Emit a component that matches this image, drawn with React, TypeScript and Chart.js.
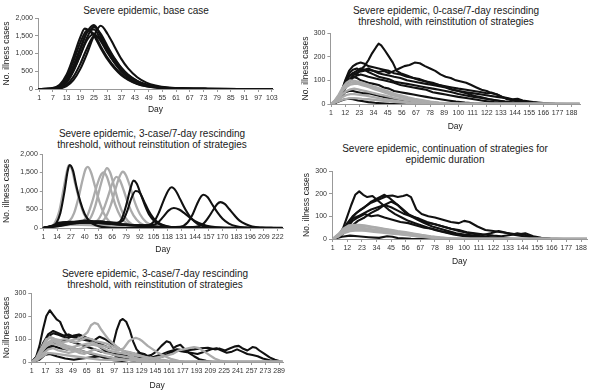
import React, { useEffect, useRef } from "react";
import { Chart, registerables } from "chart.js";
Chart.register(...registerables);

type Pt = [number, number];

// ---------------- Panel 1: base case ----------------
const p1XTicks = [1, 7, 13, 19, 25, 31, 37, 43, 49, 55, 61, 67, 73, 79, 85, 91, 97, 103];
const p1YTicks = [0, 500, 1000, 1500, 2000];
const p1RunA: Pt[] = [[1,0],[6,5],[10,60],[13,250],[16,650],[19,1150],[22,1600],[25,1680],[28,1400],[31,1050],[34,750],[37,500],[40,330],[44,180],[48,100],[52,55],[58,20],[65,8],[75,2],[90,0],[103,0]];
const p1RunB: Pt[] = [[1,0],[6,3],[10,40],[13,180],[16,500],[19,950],[22,1450],[25,1750],[28,1550],[31,1200],[34,870],[37,600],[40,400],[44,220],[48,120],[52,65],[58,25],[65,10],[75,3],[90,0],[103,0]];
const p1RunC: Pt[] = [[1,0],[6,1],[10,15],[13,80],[16,250],[19,560],[22,1000],[25,1500],[28,1780],[31,1550],[34,1200],[37,850],[40,580],[44,330],[48,180],[52,100],[58,40],[65,15],[75,4],[90,0],[103,0]];
const p1RunD: Pt[] = [[1,0],[6,8],[10,90],[13,320],[16,780],[19,1300],[22,1650],[25,1550],[28,1200],[31,880],[34,620],[37,420],[40,280],[44,150],[48,80],[52,45],[58,18],[65,7],[75,2],[90,0],[103,0]];
const p1RunE: Pt[] = [[1,0],[6,4],[10,50],[13,200],[16,520],[19,950],[22,1380],[25,1550],[28,1350],[31,1020],[34,740],[37,510],[40,350],[44,200],[48,110],[52,60],[58,22],[65,9],[75,2],[90,0],[103,0]];
const p1RunF: Pt[] = [[1,0],[6,2],[10,25],[13,120],[16,340],[19,700],[22,1150],[25,1480],[28,1450],[31,1150],[34,850],[37,590],[40,400],[44,230],[48,130],[52,70],[58,28],[65,10],[75,3],[90,0],[103,0]];
const p1RunG: Pt[] = [[1,0],[6,5],[10,55],[13,230],[16,600],[19,1100],[22,1600],[25,1800],[28,1500],[31,1120],[34,800],[37,540],[40,360],[44,200],[48,110],[52,60],[58,22],[65,9],[75,2],[90,0],[103,0]];
const p1RunH: Pt[] = [[1,0],[6,10],[10,120],[13,400],[16,900],[19,1450],[21,1700],[25,1500],[28,1150],[31,830],[34,580],[37,390],[40,260],[44,140],[48,75],[52,40],[58,15],[65,6],[75,2],[90,0],[103,0]];

// ---------------- Panel 2: 0-case/7-day, with reinstitution ----------------
const p2XTicks = [1, 12, 23, 34, 45, 56, 67, 78, 89, 100, 111, 122, 133, 144, 155, 166, 177, 188];
const p2YTicks = [0, 100, 200, 300];
const p2Black1: Pt[] = [[1,0],[5,15],[9,45],[12,90],[15,120],[18,130],[21,125],[24,145],[27,160],[30,185],[33,215],[36,240],[38,255],[40,248],[43,225],[46,200],[49,175],[52,140],[55,130],[60,120],[65,110],[70,100],[75,95],[80,85],[85,80],[90,72],[95,62],[100,55],[106,45],[112,35],[118,28],[124,20],[130,15],[136,10],[142,6],[150,3],[160,1],[170,0],[194,0]];
const p2Black2: Pt[] = [[1,0],[5,10],[9,35],[12,70],[15,100],[18,120],[22,135],[26,140],[30,145],[34,140],[38,135],[42,140],[46,130],[50,140],[54,150],[58,160],[62,165],[66,175],[70,172],[74,160],[78,150],[82,140],[86,125],[90,115],[94,110],[98,100],[102,95],[106,90],[110,80],[114,70],[118,60],[122,55],[126,45],[130,40],[134,30],[138,20],[142,15],[148,10],[155,6],[165,3],[175,1],[185,0],[194,0]];
const p2Black3: Pt[] = [[1,0],[5,12],[9,50],[12,100],[15,140],[18,160],[21,170],[24,175],[27,170],[30,160],[34,155],[38,150],[42,145],[46,140],[50,130],[55,125],[60,115],[65,110],[70,105],[75,95],[80,90],[85,80],[90,75],[95,70],[100,65],[106,60],[112,55],[118,50],[122,45],[126,48],[130,40],[134,30],[138,25],[142,20],[146,22],[150,15],[158,8],[166,4],[175,1],[185,0],[194,0]];
const p2Black4: Pt[] = [[1,0],[5,10],[9,45],[12,95],[15,130],[18,145],[21,150],[24,140],[27,145],[30,150],[34,140],[38,130],[42,125],[46,120],[50,115],[55,110],[60,100],[65,95],[70,90],[75,85],[80,80],[85,75],[90,70],[95,60],[100,55],[106,50],[112,45],[118,40],[124,35],[130,30],[136,25],[142,18],[148,12],[155,8],[162,4],[170,1],[180,0],[194,0]];
const p2Black5: Pt[] = [[1,0],[5,8],[9,40],[12,85],[15,115],[18,130],[21,140],[24,150],[27,145],[30,135],[34,125],[38,115],[42,110],[46,105],[50,95],[55,90],[60,85],[65,80],[70,75],[75,70],[80,65],[85,60],[90,55],[95,50],[100,42],[106,36],[112,30],[118,25],[124,20],[130,15],[136,10],[142,7],[150,4],[160,1],[170,0],[194,0]];
const p2Black6: Pt[] = [[1,0],[5,6],[9,30],[12,65],[15,95],[18,110],[21,120],[24,125],[27,120],[30,115],[34,110],[38,105],[42,100],[46,95],[50,90],[55,80],[60,75],[65,70],[70,65],[75,60],[80,50],[85,45],[90,40],[95,35],[100,30],[106,25],[112,20],[118,15],[124,10],[130,6],[138,3],[146,1],[155,0],[194,0]];
const p2Black7: Pt[] = [[1,0],[5,8],[9,35],[12,70],[15,100],[18,115],[21,110],[24,100],[27,95],[30,90],[34,85],[38,80],[42,70],[46,65],[50,55],[55,50],[60,45],[65,40],[70,35],[75,30],[80,25],[86,20],[92,15],[98,10],[105,6],[112,3],[120,1],[130,0],[194,0]];
const p2Black8: Pt[] = [[1,0],[5,6],[9,15],[12,20],[15,22],[18,20],[22,15],[26,12],[30,8],[35,5],[40,3],[46,1],[52,0],[194,0]];
const p2Black9: Pt[] = [[1,0],[5,10],[9,30],[12,50],[15,55],[18,55],[22,50],[26,45],[30,45],[34,40],[38,35],[42,30],[46,25],[50,20],[56,15],[62,10],[70,5],[80,2],[90,0],[194,0]];
const p2Gray1: Pt[] = [[1,0],[4,15],[7,40],[10,70],[13,90],[16,100],[19,98],[22,95],[25,90],[28,85],[31,80],[35,72],[39,65],[43,58],[47,50],[51,42],[56,35],[61,28],[66,22],[72,16],[78,10],[85,6],[92,3],[100,1],[108,0],[194,0]];
const p2Gray2: Pt[] = [[1,0],[4,12],[7,32],[10,55],[13,72],[16,82],[19,85],[22,85],[25,80],[28,75],[31,70],[35,62],[39,55],[43,48],[47,40],[51,34],[56,28],[61,22],[66,16],[72,11],[78,7],[85,4],[92,2],[100,0],[194,0]];
const p2Gray3: Pt[] = [[1,0],[4,10],[7,25],[10,42],[13,55],[16,62],[19,65],[22,62],[25,58],[28,54],[31,50],[35,45],[39,40],[43,35],[47,30],[51,25],[56,20],[61,15],[66,11],[72,7],[80,4],[90,1],[100,0],[194,0]];
const p2Gray4: Pt[] = [[1,0],[4,8],[7,18],[10,30],[13,38],[16,42],[19,42],[22,40],[25,38],[28,35],[31,32],[35,28],[39,24],[43,20],[47,17],[51,14],[56,10],[62,7],[70,4],[80,2],[90,0],[194,0]];
const p2Gray5: Pt[] = [[1,0],[4,5],[7,12],[10,18],[13,22],[16,25],[19,25],[22,24],[25,22],[30,20],[35,17],[40,14],[46,11],[52,8],[60,5],[70,3],[80,1],[90,0],[194,0]];
const p2Gray6: Pt[] = [[1,0],[4,14],[7,36],[10,62],[13,80],[16,90],[19,92],[22,90],[25,86],[28,80],[31,76],[35,68],[39,60],[43,52],[47,45],[51,38],[56,31],[61,25],[66,19],[72,13],[78,9],[85,5],[92,2],[100,0],[194,0]];

// ---------------- Panel 3: 3-case/7-day, without reinstitution ----------------
const p3XTicks = [1, 14, 27, 40, 53, 66, 79, 92, 105, 118, 131, 144, 157, 170, 183, 196, 209, 222];
const p3YTicks = [0, 500, 1000, 1500, 2000];
const p3Black1: Pt[] = [[1,0],[8,20],[13,120],[17,400],[21,1000],[24,1550],[26,1700],[29,1550],[32,1150],[36,700],[40,380],[45,170],[50,80],[56,30],[65,5],[80,0],[226,0]];
const p3Black2: Pt[] = [[1,0],[10,60],[15,140],[25,160],[35,150],[45,170],[55,180],[62,150],[70,130],[75,250],[79,600],[83,1050],[86,1280],[89,1200],[93,900],[97,600],[101,350],[106,180],[112,80],[120,25],[130,5],[140,0],[226,0]];
const p3Black3: Pt[] = [[1,0],[12,80],[20,150],[30,170],[40,200],[50,180],[60,160],[70,140],[76,200],[80,450],[84,800],[88,1000],[92,950],[96,720],[100,480],[105,260],[110,130],[118,45],[128,10],[140,0],[226,0]];
const p3Black4: Pt[] = [[1,0],[12,60],[20,130],[30,150],[45,140],[60,120],[75,90],[90,70],[100,80],[106,200],[110,420],[115,780],[119,1020],[122,1100],[126,1000],[130,780],[135,500],[140,280],[146,120],[153,40],[162,10],[175,0],[226,0]];
const p3Black5: Pt[] = [[1,0],[15,80],[25,130],[40,150],[55,130],[70,100],[85,80],[100,70],[108,120],[114,300],[119,470],[124,540],[129,500],[134,400],[140,260],[147,140],[155,60],[165,20],[180,3],[226,0]];
const p3Black6: Pt[] = [[1,0],[15,60],[30,130],[45,170],[60,140],[75,100],[90,70],[105,40],[120,20],[130,30],[137,150],[142,380],[146,650],[150,860],[152,900],[156,830],[160,650],[165,430],[170,250],[176,120],[183,45],[192,12],[205,2],[226,0]];
const p3Black7: Pt[] = [[1,0],[15,50],[30,120],[45,150],[60,130],[75,90],[90,60],[110,35],[130,20],[145,30],[152,120],[157,300],[161,480],[165,650],[168,700],[172,650],[176,520],[181,350],[186,200],[192,100],[198,40],[207,12],[218,2],[226,0]];
const p3Gray1: Pt[] = [[1,0],[8,30],[12,150],[16,450],[20,1050],[23,1500],[25,1700],[28,1580],[31,1200],[35,750],[39,400],[44,180],[50,70],[58,20],[70,0],[226,0]];
const p3Gray2: Pt[] = [[1,0],[10,40],[20,120],[26,200],[30,400],[34,800],[38,1300],[41,1600],[43,1650],[46,1500],[50,1100],[54,700],[58,400],[63,180],[70,60],[80,10],[95,0],[226,0]];
const p3Gray3: Pt[] = [[1,0],[10,40],[20,100],[30,130],[40,150],[45,250],[50,600],[54,1050],[58,1450],[61,1620],[64,1500],[68,1100],[72,700],[76,400],[81,180],[88,60],[98,10],[110,0],[226,0]];
const p3Gray4: Pt[] = [[1,0],[15,60],[25,120],[35,140],[42,300],[47,700],[51,1100],[55,1420],[58,1500],[61,1380],[65,1000],[69,620],[74,300],[80,120],[88,30],[100,0],[226,0]];
const p3Gray5: Pt[] = [[1,0],[15,60],[30,110],[45,130],[52,200],[57,450],[62,850],[66,1200],[70,1380],[73,1300],[77,1000],[81,650],[86,340],[92,140],[100,40],[112,5],[226,0]];
const p3Gray6: Pt[] = [[1,0],[15,50],[30,100],[45,120],[55,150],[60,300],[65,650],[69,1050],[73,1400],[76,1520],[79,1420],[83,1100],[87,720],[92,380],[98,160],[106,50],[118,8],[130,0],[226,0]];
const p3Gray7: Pt[] = [[1,0],[10,50],[20,100],[30,90],[45,80],[60,60],[80,40],[100,30],[120,15],[135,5],[150,0],[226,0]];

// ---------------- Panel 4: continuation of strategies ----------------
const p4XTicks = [1, 12, 23, 34, 45, 56, 67, 78, 89, 100, 111, 122, 133, 144, 155, 166, 177, 188];
const p4YTicks = [0, 100, 200, 300];
const p4Black1: Pt[] = [[1,0],[5,10],[9,50],[12,100],[15,150],[18,195],[21,210],[24,195],[27,185],[31,190],[35,170],[39,150],[43,130],[48,110],[53,95],[58,80],[63,70],[68,60],[73,50],[78,40],[85,30],[92,20],[100,12],[110,6],[120,2],[135,0],[193,0]];
const p4Black2: Pt[] = [[1,0],[6,15],[10,45],[14,80],[18,110],[22,130],[26,145],[30,160],[34,170],[38,180],[42,190],[46,192],[50,185],[54,190],[57,195],[60,185],[64,130],[68,110],[73,100],[78,95],[84,85],[90,75],[96,70],[100,80],[104,75],[110,55],[116,40],[122,35],[128,30],[134,25],[140,20],[146,25],[152,12],[158,5],[165,2],[175,0],[193,0]];
const p4Black3: Pt[] = [[1,0],[8,30],[12,70],[16,100],[20,120],[25,140],[30,165],[35,180],[40,195],[44,180],[48,160],[53,135],[58,110],[63,95],[68,80],[73,70],[78,65],[84,55],[90,45],[96,35],[102,28],[108,22],[114,18],[120,25],[126,35],[130,30],[136,20],[142,15],[148,10],[155,5],[165,1],[193,0]];
const p4Black4: Pt[] = [[1,0],[8,25],[12,60],[16,90],[20,100],[25,115],[30,130],[35,140],[40,150],[45,140],[50,125],[55,110],[60,100],[66,90],[72,75],[78,65],[84,55],[90,45],[96,40],[102,30],[108,25],[115,20],[122,15],[128,12],[135,18],[140,25],[145,20],[150,10],[156,4],[165,0],[193,0]];
const p4Black5: Pt[] = [[1,0],[8,20],[12,50],[16,80],[20,95],[25,110],[30,100],[35,105],[40,95],[46,85],[52,75],[58,70],[64,60],[70,50],[76,45],[82,35],[88,28],[95,20],[102,15],[110,10],[118,6],[126,3],[135,0],[193,0]];
const p4Black6: Pt[] = [[1,0],[8,20],[12,40],[16,60],[20,80],[25,95],[30,115],[35,130],[40,150],[45,165],[50,150],[55,120],[60,100],[65,85],[70,70],[76,55],[82,45],[88,35],[94,25],[100,20],[108,15],[116,10],[124,5],[132,2],[140,0],[193,0]];
const p4Black7: Pt[] = [[1,0],[8,10],[14,15],[20,12],[28,8],[36,5],[42,12],[46,10],[50,4],[60,1],[70,0],[193,0]];
const p4Gray1: Pt[] = [[1,0],[5,20],[9,45],[13,60],[17,62],[21,62],[25,60],[30,55],[35,50],[40,45],[45,40],[50,35],[56,30],[62,24],[68,18],[75,12],[82,7],[90,3],[100,0],[193,0]];
const p4Gray2: Pt[] = [[1,0],[5,15],[9,35],[13,48],[18,52],[23,50],[28,45],[34,40],[40,35],[46,30],[52,25],[58,20],[65,14],[72,9],[80,5],[90,2],[100,0],[193,0]];
const p4Gray3: Pt[] = [[1,0],[5,10],[9,25],[14,35],[20,38],[26,36],[32,32],[38,28],[45,24],[52,20],[60,15],[68,10],[76,6],[85,3],[95,0],[193,0]];
const p4Gray4: Pt[] = [[1,0],[5,18],[9,40],[13,55],[17,58],[21,58],[25,56],[30,52],[35,48],[40,42],[45,38],[50,32],[56,27],[62,21],[68,16],[75,10],[82,6],[90,2],[100,0],[193,0]];
const p4Gray5: Pt[] = [[1,0],[5,12],[9,30],[13,42],[18,46],[23,45],[28,42],[34,38],[40,32],[46,28],[52,22],[58,18],[65,12],[72,8],[80,4],[90,1],[100,0],[193,0]];

// ---------------- Panel 5: 3-case/7-day, with reinstitution ----------------
const p5XTicks = [1, 17, 33, 49, 65, 81, 97, 113, 129, 145, 161, 177, 193, 209, 225, 241, 257, 273, 289];
const p5YTicks = [0, 100, 200, 300];
const p5Black1: Pt[] = [[1,0],[6,20],[10,70],[14,140],[18,200],[22,225],[26,205],[30,185],[34,175],[38,140],[42,115],[47,110],[52,105],[58,100],[64,95],[70,90],[76,80],[82,60],[88,45],[94,35],[100,25],[108,15],[116,8],[125,3],[135,0],[293,0]];
const p5Black2: Pt[] = [[1,0],[8,30],[14,80],[20,120],[26,135],[32,125],[38,115],[44,120],[50,110],[56,115],[62,105],[68,95],[74,90],[80,80],[86,70],[92,60],[96,80],[100,140],[104,180],[107,187],[111,175],[115,140],[119,90],[123,55],[128,35],[134,20],[140,8],[148,2],[160,0],[293,0]];
const p5Black3: Pt[] = [[1,0],[8,25],[14,70],[20,110],[26,125],[32,118],[38,110],[44,105],[50,115],[56,120],[62,110],[68,100],[74,95],[80,110],[86,100],[92,85],[98,70],[104,55],[110,45],[116,40],[122,35],[128,30],[134,25],[140,30],[146,45],[152,70],[158,90],[162,85],[166,60],[170,70],[174,75],[178,60],[184,40],[190,25],[196,12],[204,5],[212,0],[293,0]];
const p5Black4: Pt[] = [[1,0],[10,20],[18,60],[26,80],[34,90],[42,95],[50,85],[58,75],[66,65],[74,55],[82,45],[90,40],[98,35],[106,30],[114,25],[122,20],[130,15],[140,18],[150,30],[160,45],[170,55],[180,50],[190,55],[198,60],[206,62],[214,55],[220,58],[226,50],[232,60],[238,68],[242,70],[246,60],[252,50],[258,65],[262,62],[266,50],[272,35],[278,20],[284,10],[290,3],[293,0]];
const p5Black5: Pt[] = [[1,0],[10,25],[18,55],[26,70],[34,60],[42,55],[50,60],[58,50],[66,40],[74,30],[82,25],[90,20],[100,15],[110,12],[120,30],[126,40],[132,35],[138,20],[146,15],[154,25],[162,40],[170,50],[178,45],[186,40],[194,35],[202,45],[210,55],[216,60],[222,50],[228,40],[234,45],[240,55],[246,45],[252,35],[258,30],[264,25],[270,15],[278,8],[286,2],[293,0]];
const p5Black6: Pt[] = [[1,0],[10,10],[16,30],[22,35],[30,25],[40,15],[50,10],[60,15],[70,20],[80,25],[88,15],[96,8],[106,5],[116,10],[124,20],[130,25],[136,15],[142,5],[150,0],[293,0]];
const p5Gray1: Pt[] = [[1,0],[6,15],[12,60],[18,100],[24,105],[30,95],[36,85],[42,90],[48,95],[54,100],[60,110],[66,130],[70,160],[74,170],[78,165],[82,140],[86,120],[90,100],[96,80],[102,60],[108,45],[114,30],[120,20],[128,10],[136,4],[145,0],[293,0]];
const p5Gray2: Pt[] = [[1,0],[6,10],[12,45],[18,80],[24,95],[30,90],[36,80],[42,70],[48,65],[54,70],[60,75],[66,80],[72,85],[78,75],[84,70],[90,65],[96,55],[102,50],[108,60],[114,90],[118,100],[122,105],[126,100],[130,90],[136,70],[142,55],[148,40],[156,25],[164,12],[172,5],[180,0],[293,0]];
const p5Gray3: Pt[] = [[1,0],[6,8],[12,40],[18,70],[24,80],[30,75],[36,70],[42,65],[48,60],[54,55],[60,60],[66,70],[72,75],[78,70],[84,60],[90,50],[96,45],[104,40],[112,35],[120,30],[128,25],[136,20],[144,15],[152,10],[160,6],[170,2],[180,0],[293,0]];
const p5Gray4: Pt[] = [[1,0],[8,10],[14,35],[20,55],[26,60],[32,50],[38,45],[44,40],[50,45],[56,50],[62,45],[68,40],[74,35],[80,30],[86,25],[92,20],[100,15],[110,10],[120,6],[130,3],[140,0],[293,0]];
const p5Gray5: Pt[] = [[1,0],[10,15],[20,40],[30,35],[40,30],[50,25],[60,20],[70,15],[80,10],[100,8],[120,10],[140,15],[155,25],[165,35],[172,50],[178,55],[184,60],[190,65],[196,60],[202,45],[208,30],[214,15],[220,6],[230,0],[293,0]];
const p5Gray6: Pt[] = [[1,0],[6,12],[12,50],[18,90],[22,110],[28,100],[34,95],[40,100],[46,90],[52,85],[58,95],[64,105],[70,100],[76,90],[82,85],[88,80],[94,70],[100,60],[106,50],[112,45],[118,40],[126,30],[134,20],[142,12],[150,6],[160,2],[170,0],[293,0]];
const p5Gray7: Pt[] = [[1,0],[8,20],[14,55],[20,75],[26,90],[32,80],[38,60],[44,55],[50,50],[56,40],[62,35],[68,45],[74,55],[80,50],[86,40],[92,35],[98,30],[106,25],[114,20],[122,15],[130,10],[140,5],[150,2],[160,0],[293,0]];

// ---------------- rendering ----------------
const FONT = "'Liberation Sans', Arial, Helvetica, sans-serif";
const BLACK = "#111111";
const GRAY = "#ababab";

interface PanelDef {
  title: string[];
  titleX: number;
  titleY: number;
  yTitle: string;
  l: number; r: number; t: number; b: number;
  canvasLeft: number;
  canvasBottom: number;
  xMin: number; xMax: number;
  xTicks: number[];
  yTicks: number[];
  black: Pt[][];
  gray: Pt[][];
  blackOnTop: boolean;
  smooth: boolean;
}

const PAD_TOP = 8;
const PAD_RIGHT = 8;

function Panel({ p }: { p: PanelDef }) {
  const ref = useRef<HTMLCanvasElement>(null);
  const cTop = p.t - PAD_TOP;
  const cW = p.r + PAD_RIGHT - p.canvasLeft;
  const cH = p.canvasBottom - cTop;
  useEffect(() => {
    if (!ref.current) return;
    const mk = (s: Pt[], color: string, w: number) => ({
      data: s.map(([x, y]) => ({ x, y })),
      borderColor: color,
      backgroundColor: color,
      borderWidth: w,
      pointRadius: 0,
      fill: false,
      tension: p.smooth ? 0.4 : 0,
      cubicInterpolationMode: p.smooth ? "monotone" : "default",
    });
    const blackDs = p.black.map((s) => mk(s, BLACK, 2.1));
    const grayDs = p.gray.map((s) => mk(s, GRAY, 2.3));
    // dataset 0 is drawn last (on top)
    const datasets = p.blackOnTop ? [...blackDs, ...grayDs] : [...grayDs, ...blackDs];
    const chart = new Chart(ref.current, {
      type: "line",
      data: { datasets: datasets as any },
      options: {
        responsive: false,
        animation: false,
        devicePixelRatio: 1,
        layout: { padding: { top: PAD_TOP, right: PAD_RIGHT, left: 0, bottom: 0 } },
        plugins: { legend: { display: false }, tooltip: { enabled: false }, title: { display: false } },
        elements: { line: { borderCapStyle: "round", borderJoinStyle: "round" } },
        scales: {
          x: {
            type: "linear",
            min: p.xMin,
            max: p.xMax,
            afterBuildTicks: (s: any) => {
              s.ticks = p.xTicks.map((v) => ({ value: v }));
            },
            afterFit: (s: any) => {
              s.height = p.canvasBottom - p.b;
            },
            ticks: {
              autoSkip: false,
              maxRotation: 0,
              minRotation: 0,
              padding: 2,
              color: "#333",
              font: { family: FONT, size: 7 },
              callback: (v: any) => String(v),
            },
            grid: { drawOnChartArea: false, drawTicks: true, tickLength: 3, color: "#999" },
            border: { color: "#999", width: 1 },
            title: { display: true, text: "Day", color: "#222", font: { family: FONT, size: 8.5 }, padding: { top: 0, bottom: 2 } },
          },
          y: {
            type: "linear",
            min: 0,
            max: p.yTicks[p.yTicks.length - 1],
            afterBuildTicks: (s: any) => {
              s.ticks = p.yTicks.map((v) => ({ value: v }));
            },
            afterFit: (s: any) => {
              s.width = p.l - p.canvasLeft;
            },
            ticks: {
              padding: 2,
              color: "#333",
              font: { family: FONT, size: 7 },
              callback: (v: any) => Number(v).toLocaleString("en-US"),
            },
            grid: { drawOnChartArea: false, drawTicks: true, tickLength: 3, color: "#999" },
            border: { color: "#999", width: 1 },
            title: { display: true, text: p.yTitle, color: "#222", font: { family: FONT, size: 8.5 }, padding: { top: 2, bottom: 0 } },
          },
        },
      } as any,
    });
    return () => chart.destroy();
  }, [p]);
  return (
    <>
      <div
        style={{
          position: "absolute",
          left: p.titleX,
          top: p.titleY - 5.5,
          transform: "translateX(-50%)",
          whiteSpace: "nowrap",
          textAlign: "center",
          fontFamily: FONT,
          fontSize: 10,
          lineHeight: "11px",
          color: "#1a1a1a",
        }}
      >
        {p.title.map((line, i) => (
          <div key={i}>{line}</div>
        ))}
      </div>
      <canvas
        ref={ref}
        width={cW}
        height={cH}
        style={{ position: "absolute", left: p.canvasLeft, top: cTop, width: cW, height: cH }}
      />
    </>
  );
}

const panels: PanelDef[] = [
  {
    title: ["Severe epidemic, base case"],
    titleX: 146, titleY: 10,
    yTitle: "No. illness cases",
    l: 38, r: 273, t: 18, b: 89,
    canvasLeft: 0, canvasBottom: 117,
    xMin: 0.5, xMax: 103.5, xTicks: p1XTicks, yTicks: p1YTicks,
    black: [p1RunA, p1RunB, p1RunC, p1RunD, p1RunE, p1RunF, p1RunG, p1RunH],
    gray: [],
    blackOnTop: true, smooth: true,
  },
  {
    title: ["Severe epidemic, 0-case/7-day rescinding", "threshold, with reinstitution of strategies"],
    titleX: 446, titleY: 10,
    yTitle: "No. illness cases",
    l: 330.4, r: 580, t: 33, b: 104,
    canvasLeft: 299, canvasBottom: 134,
    xMin: 0.5, xMax: 194.5, xTicks: p2XTicks, yTicks: p2YTicks,
    black: [p2Black1, p2Black2, p2Black3, p2Black4, p2Black5, p2Black6, p2Black7, p2Black8, p2Black9],
    gray: [p2Gray1, p2Gray2, p2Gray3, p2Gray4, p2Gray5, p2Gray6],
    blackOnTop: false, smooth: false,
  },
  {
    title: ["Severe epidemic, 3-case/7-day rescinding", "threshold, without reinstitution of strategies"],
    titleX: 152, titleY: 133,
    yTitle: "No. illness cases",
    l: 42.8, r: 283, t: 154, b: 228,
    canvasLeft: 0, canvasBottom: 257,
    xMin: 0.5, xMax: 227, xTicks: p3XTicks, yTicks: p3YTicks,
    black: [p3Black1, p3Black2, p3Black3, p3Black4, p3Black5, p3Black6, p3Black7],
    gray: [p3Gray1, p3Gray2, p3Gray3, p3Gray4, p3Gray5, p3Gray6, p3Gray7],
    blackOnTop: true, smooth: true,
  },
  {
    title: ["Severe epidemic, continuation of strategies for", "epidemic duration"],
    titleX: 445, titleY: 148,
    yTitle: "No. illness cases",
    l: 332, r: 587, t: 171, b: 239,
    canvasLeft: 300, canvasBottom: 269,
    xMin: 0.5, xMax: 192.5, xTicks: p4XTicks, yTicks: p4YTicks,
    black: [p4Black1, p4Black2, p4Black3, p4Black4, p4Black5, p4Black6, p4Black7],
    gray: [p4Gray1, p4Gray2, p4Gray3, p4Gray4, p4Gray5],
    blackOnTop: false, smooth: false,
  },
  {
    title: ["Severe epidemic, 3-case/7-day rescinding", "threshold, with reinstitution of strategies"],
    titleX: 155, titleY: 273,
    yTitle: "No.illness cases",
    l: 31.3, r: 283, t: 293, b: 362,
    canvasLeft: 0, canvasBottom: 393,
    xMin: 0.5, xMax: 293.5, xTicks: p5XTicks, yTicks: p5YTicks,
    black: [p5Black1, p5Black2, p5Black3, p5Black4, p5Black5, p5Black6],
    gray: [p5Gray1, p5Gray2, p5Gray3, p5Gray4, p5Gray5, p5Gray6, p5Gray7],
    blackOnTop: false, smooth: false,
  },
];

export default function App() {
  useEffect(() => {
    document.body.style.margin = "0";
  }, []);
  return (
    <div style={{ position: "relative", width: 600, height: 392, background: "#fff", overflow: "hidden" }}>
      {panels.map((p, i) => (
        <Panel key={i} p={p} />
      ))}
    </div>
  );
}
